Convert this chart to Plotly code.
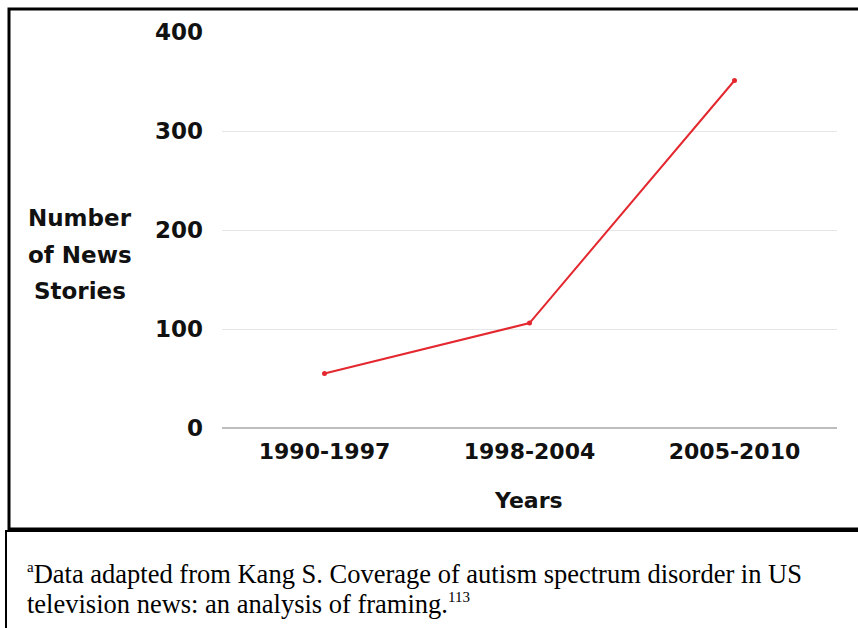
import plotly.graph_objects as go

categories = ["1990-1997", "1998-2004", "2005-2010"]
stories = [55, 106, 351]
y_ticks = [0, 100, 200, 300, 400]

W, H = 858, 628
L, R, T, B = 222, 21, 32, 200
pw, ph = W - L - R, H - T - B

def px(x):
    return (x - L) / pw

def py(y):
    return (H - B - y) / ph

SANS = "DejaVu Sans"
SERIF = "Liberation Serif"
fig = go.Figure()
fig.add_trace(go.Scatter(
    x=categories, y=stories, mode="lines+markers",
    line=dict(color="#e3282f", width=2),
    marker=dict(color="#e3282f", size=5),
    showlegend=False, hoverinfo="skip"))

fig.update_layout(
    width=W, height=H,
    margin=dict(l=L, r=R, t=T, b=B),
    paper_bgcolor="white", plot_bgcolor="white",
    font=dict(family=SANS, color="#111"),
    xaxis=dict(type="category", range=[-0.5, 2.5], showgrid=False,
               zeroline=False, showline=False,
               tickfont=dict(family=SANS, size=22, weight=700, color="#111"),
               ticklabelstandoff=8),
    yaxis=dict(range=[0, 400], tickvals=y_ticks, showgrid=True,
               gridcolor="#e6e6e6", gridwidth=1,
               zeroline=True, zerolinecolor="#bdbdbd", zerolinewidth=1.5,
               showline=False,
               tickfont=dict(family=SANS, size=23, weight=700, color="#111"),
               ticklabelstandoff=18),
)

for txt, yc in [("Number", 218), ("of News", 255), ("Stories", 291)]:
    fig.add_annotation(xref="paper", yref="paper", x=px(80), y=py(yc),
                       text=txt, showarrow=False,
                       xanchor="center", yanchor="middle",
                       font=dict(family=SANS, size=23, weight=700, color="#111"))
fig.add_annotation(xref="paper", yref="paper", x=px(528), y=py(500),
                   text="Years", showarrow=False,
                   xanchor="center", yanchor="middle",
                   font=dict(family=SANS, size=22, weight=700, color="#111"))

# chart border
fig.add_shape(type="rect", xref="paper", yref="paper",
              x0=px(9), x1=px(870), y0=py(529), y1=py(9),
              line=dict(color="black", width=3), layer="above")
# footnote box
fig.add_shape(type="rect", xref="paper", yref="paper",
              x0=px(6), x1=px(870), y0=py(640), y1=py(531),
              line=dict(color="black", width=2), layer="above")

fig.add_annotation(xref="paper", yref="paper", x=px(25), y=py(591),
                   text="<sup><span style='font-size:15px'>a</span></sup>Data adapted from Kang S. Coverage of autism spectrum disorder in US",
                   showarrow=False, align="left", xanchor="left", yanchor="bottom",
                   font=dict(family=SERIF, size=26.5, color="black"))
fig.add_annotation(xref="paper", yref="paper", x=px(25), y=py(587),
                   text="television news: an analysis of framing.<sup><span style='font-size:15px'>113</span></sup>",
                   showarrow=False, align="left", xanchor="left", yanchor="top",
                   font=dict(family=SERIF, size=26.5, color="black"))

fig.write_html("out.html", post_script="document.body.style.margin='0';",
               config={"displayModeBar": False})
